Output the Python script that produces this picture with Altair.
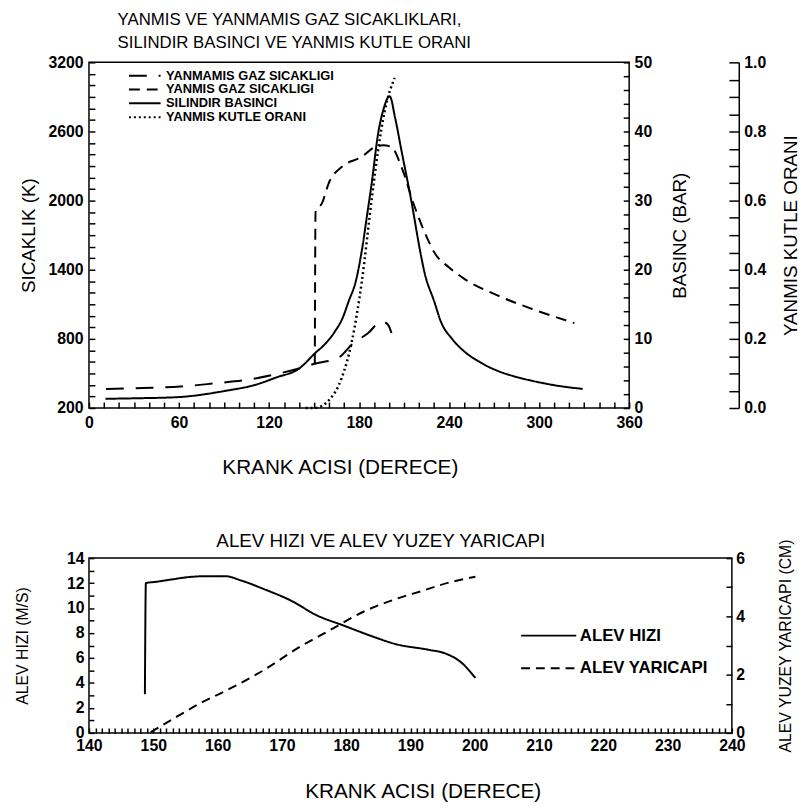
import altair as alt
import pandas as pd

FONT = "Liberation Sans"

# ---------------- top chart data ----------------
top_names = ["YANMAMIS GAZ SICAKLIGI", "YANMIS GAZ SICAKLIGI", "SILINDIR BASINCI", "YANMIS KUTLE ORANI"]
top_dash = [[18, 12], [11, 7], [1, 0], [2, 3]]

unb_deg = [11.4, 35.6, 60.9, 83.9, 104.8, 126.8, 142.2, 151.0, 166.4, 175.2, 186.1, 195.0, 199.3, 201.6]
unb_T = [365, 374, 386, 414, 443, 500, 551, 586, 637, 751, 851, 952, 923, 851]

brn_deg = [150.5, 151.0, 155.4, 159.8, 168.6, 181.8, 190.5, 196.0, 201.6, 208.2, 216.9, 225.7,
           230.1, 240.0, 249.9, 271.8, 293.9, 323.5]
brn_T = [580, 1900, 1980, 2152, 2294, 2380, 2465, 2480, 2465, 2294, 1951, 1666,
         1551, 1420, 1323, 1180, 1066, 937]

p_deg = [11, 30, 59, 92, 110, 125, 140, 151, 158, 164, 169, 173, 178, 182, 185, 188.4, 192.7,
         196, 200.4, 204, 208.2, 214.7, 221.3, 223.5, 230.1, 234.5, 242, 250, 260, 272, 283, 294, 310, 329]
p_bar = [1.33, 1.4, 1.57, 2.52, 3.3, 4.43, 5.7, 8.0, 9.4, 11.1, 13.0, 15.4, 18.5, 23.0, 27.4, 32.5, 39.7,
         43.0, 45.1, 42.0, 37.3, 30.1, 22.0, 19.7, 15.4, 12.5, 10.0, 8.2, 6.7, 5.4, 4.6, 4.0, 3.3, 2.76]

mf_deg = [144.4, 150.0, 153.2, 156.0, 159.8, 168.6, 175.2, 181.8, 188.4, 192.7, 197.1, 203.7]
mf_val = [0.0, 0.0, 0.002, 0.008, 0.022, 0.089, 0.193, 0.365, 0.603, 0.746, 0.86, 0.955]

# ---------------- bottom chart data ----------------
bot_names = ["ALEV HIZI", "ALEV YARICAPI"]
bot_dash = [[1, 0], [9, 6]]

v_deg = [148.7, 148.85, 150.4, 153.0, 155.0, 158.1, 161.2, 163.7, 167.3, 171.4, 175.5, 179.6,
         183.7, 187.8, 192.9, 195.5, 198.0, 200.1]
v_ms = [3.1, 12.0, 12.1, 12.3, 12.45, 12.55, 12.55, 12.2, 11.5, 10.6, 9.4, 8.6,
        7.8, 7.1, 6.65, 6.35, 5.6, 4.4]

r_deg = [149.6, 153.0, 157.0, 162.2, 167.3, 172.4, 177.5, 182.6, 187.8, 191.9, 196.0, 200.1]
r_cm = [0.02, 0.47, 0.98, 1.55, 2.17, 2.9, 3.53, 4.15, 4.6, 4.88, 5.16, 5.36]

# ---------------- frames ----------------
temp_df = pd.concat([
    pd.DataFrame({"aci": unb_deg, "deger": unb_T, "seri": top_names[0]}),
    pd.DataFrame({"aci": brn_deg, "deger": brn_T, "seri": top_names[1]}),
])
p_df = pd.DataFrame({"aci": p_deg, "deger": p_bar, "seri": top_names[2]})
mf_df = pd.DataFrame({"aci": mf_deg, "deger": mf_val, "seri": top_names[3]})

v_df = pd.DataFrame({"aci": v_deg, "deger": v_ms, "seri2": bot_names[0]})
r_df = pd.DataFrame({"aci": r_deg, "deger": r_cm, "seri2": bot_names[1]})

TW, TH = 547, 350
BW, BH = 651, 177

line_kw = dict(color="black", strokeWidth=2, interpolate="monotone")

x_top = alt.X("aci:Q", scale=alt.Scale(domain=[0, 360], nice=False, zero=False),
              axis=alt.Axis(title="KRANK ACISI (DERECE)", values=list(range(0, 361, 10)),
                            labelExpr="datum.value % 60 === 0 ? datum.label : ''",
                            tickSize=6, offset=-6, domain=False, grid=False, labelPadding=7,
                            labelFlush=False, labelOverlap=False, titleFontSize=21,
                            titleX=254, titleY=55, titleBaseline="top"))

dash_top = alt.StrokeDash("seri:N", scale=alt.Scale(domain=top_names, range=top_dash),
                          legend=alt.Legend(title=None, orient="none", legendX=50, legendY=7,
                                            symbolType="M-4,0H4", symbolSize=64, symbolStrokeWidth=2,
                                            symbolStrokeColor="black", labelFont=FONT, labelFontSize=13,
                                            labelFontWeight="bold", labelOffset=15, rowPadding=0,
                                            padding=0, labelLimit=400, labelColor="black"))

temp_layer = alt.Chart(temp_df).mark_line(**line_kw).encode(
    x=x_top,
    y=alt.Y("deger:Q", scale=alt.Scale(domain=[200, 3200], nice=False, zero=False),
            axis=alt.Axis(title="SICAKLIK (K)", orient="left", values=list(range(200, 3201, 100)),
                          format="d", labelExpr="(datum.value - 200) % 600 === 0 ? datum.label : ''",
                          tickSize=6, offset=-6, domain=False, grid=False, labelPadding=6,
                          labelFlush=False, labelOverlap=False, titlePadding=10)),
    strokeDash=dash_top,
)

p_layer = alt.Chart(p_df).mark_line(**line_kw).encode(
    x=x_top,
    y=alt.Y("deger:Q", scale=alt.Scale(domain=[0, 50], nice=False, zero=False),
            axis=alt.Axis(title="BASINC (BAR)", orient="right", values=list(range(0, 51, 2)),
                          labelExpr="datum.value % 10 === 0 ? datum.label : ''",
                          tickSize=6, offset=-6, domain=False, grid=False, labelPadding=5,
                          labelFlush=False, labelOverlap=False, titlePadding=19, titleAngle=270,
                          titleBaseline="top")),
    strokeDash=dash_top,
)

mf_layer = alt.Chart(mf_df).mark_line(color="black", strokeWidth=2.5, interpolate="monotone").encode(
    x=x_top,
    y=alt.Y("deger:Q", scale=alt.Scale(domain=[0, 1], nice=False, zero=False),
            axis=alt.Axis(title="YANMIS KUTLE ORANI", orient="right", values=[0, 0.2, 0.4, 0.6, 0.8, 1.0],
                          format=".1f", ticks=False, offset=111, domain=True, grid=False, labelPadding=5,
                          labelFlush=False, labelOverlap=False, titlePadding=16, titleAngle=270,
                          titleBaseline="top")),
    strokeDash=dash_top,
)

mf_ticks = alt.Chart(mf_df).mark_line(strokeOpacity=0).encode(
    x=x_top,
    y=alt.Y("deger:Q", scale=alt.Scale(domain=[0, 1], nice=False, zero=False),
            axis=alt.Axis(title=None, orient="right", values=[round(i * 0.05, 2) for i in range(21)],
                          labels=False, tickSize=10, offset=101, domain=False, grid=False)),
)

top = alt.layer(temp_layer, p_layer, mf_layer, mf_ticks).resolve_scale(y="independent").properties(
    width=TW, height=TH,
    title=alt.TitleParams(["YANMIS VE YANMAMIS GAZ SICAKLIKLARI,", "SILINDIR BASINCI VE YANMIS KUTLE ORANI"],
                          anchor="start", frame="group", dx=29, fontSize=17, lineHeight=23, font=FONT,
                          fontWeight="normal", offset=3, color="black"),
)

# ---------------- bottom chart ----------------
x_bot = alt.X("aci:Q", scale=alt.Scale(domain=[140, 240], nice=False, zero=False),
              axis=alt.Axis(title="KRANK ACISI (DERECE)", values=list(range(140, 241, 1)),
                            labelExpr="datum.value % 10 === 0 ? datum.label : ''",
                            tickSize=5, offset=-5, domain=False, grid=False, labelPadding=5,
                            labelFlush=False, labelOverlap=False, titleFontSize=21,
                            titleX=338, titleY=53, titleBaseline="top"))

dash_bot = alt.StrokeDash("seri2:N", scale=alt.Scale(domain=bot_names, range=bot_dash),
                          legend=alt.Legend(title=None, orient="none", legendX=457, legendY=70,
                                            symbolType="M-4,0H4", symbolSize=195, symbolStrokeWidth=2,
                                            symbolStrokeColor="black", labelFont=FONT, labelFontSize=17,
                                            labelFontWeight="bold", labelOffset=23, rowPadding=15,
                                            padding=0, labelLimit=400, labelColor="black"))

v_layer = alt.Chart(v_df).mark_line(**line_kw).encode(
    x=x_bot,
    y=alt.Y("deger:Q", scale=alt.Scale(domain=[0, 14], nice=False, zero=False),
            axis=alt.Axis(title="ALEV HIZI (M/S)", orient="left", values=list(range(0, 15)),
                          labelExpr="datum.value % 2 === 0 ? datum.label : ''",
                          tickSize=5, offset=-5, domain=False, grid=False, labelPadding=5,
                          labelFlush=False, labelOverlap=False, titlePadding=36, titleFontSize=16)),
    strokeDash=dash_bot,
)

r_layer = alt.Chart(r_df).mark_line(**line_kw).encode(
    x=x_bot,
    y=alt.Y("deger:Q", scale=alt.Scale(domain=[0, 6], nice=False, zero=False),
            axis=alt.Axis(title="ALEV YUZEY YARICAPI (CM)", orient="right",
                          values=[i * 0.5 for i in range(13)], format="d",
                          labelExpr="datum.value % 2 === 0 ? datum.label : ''",
                          tickSize=6, offset=-6, domain=False, grid=False, labelPadding=4,
                          labelFlush=False, labelOverlap=False, titlePadding=33, titleFontSize=16,
                          titleAngle=270, titleBaseline="top")),
    strokeDash=dash_bot,
)

bottom = alt.layer(v_layer, r_layer).resolve_scale(y="independent").properties(
    width=BW, height=BH,
    title=alt.TitleParams("ALEV HIZI VE ALEV YUZEY YARICAPI", anchor="start", frame="group", dx=129,
                          fontSize=19, font=FONT, fontWeight="normal", offset=-13, color="black"),
)

chart = alt.vconcat(top, bottom, spacing=54).resolve_scale(
    strokeDash="independent"
).resolve_legend(
    strokeDash="independent"
).properties(
    padding={"left": 6, "top": -3, "right": 0, "bottom": 0},
).configure_view(
    stroke="black", strokeWidth=1.5,
).configure_axis(
    labelFont=FONT, labelFontSize=16, labelFontWeight="bold", labelColor="black",
    titleFont=FONT, titleFontWeight="normal", titleColor="black", titleFontSize=19,
    tickColor="black", tickWidth=1.5, domainColor="black", domainWidth=1.5,
)

chart.save("out.html", embed_options={"renderer": "svg", "actions": False})
